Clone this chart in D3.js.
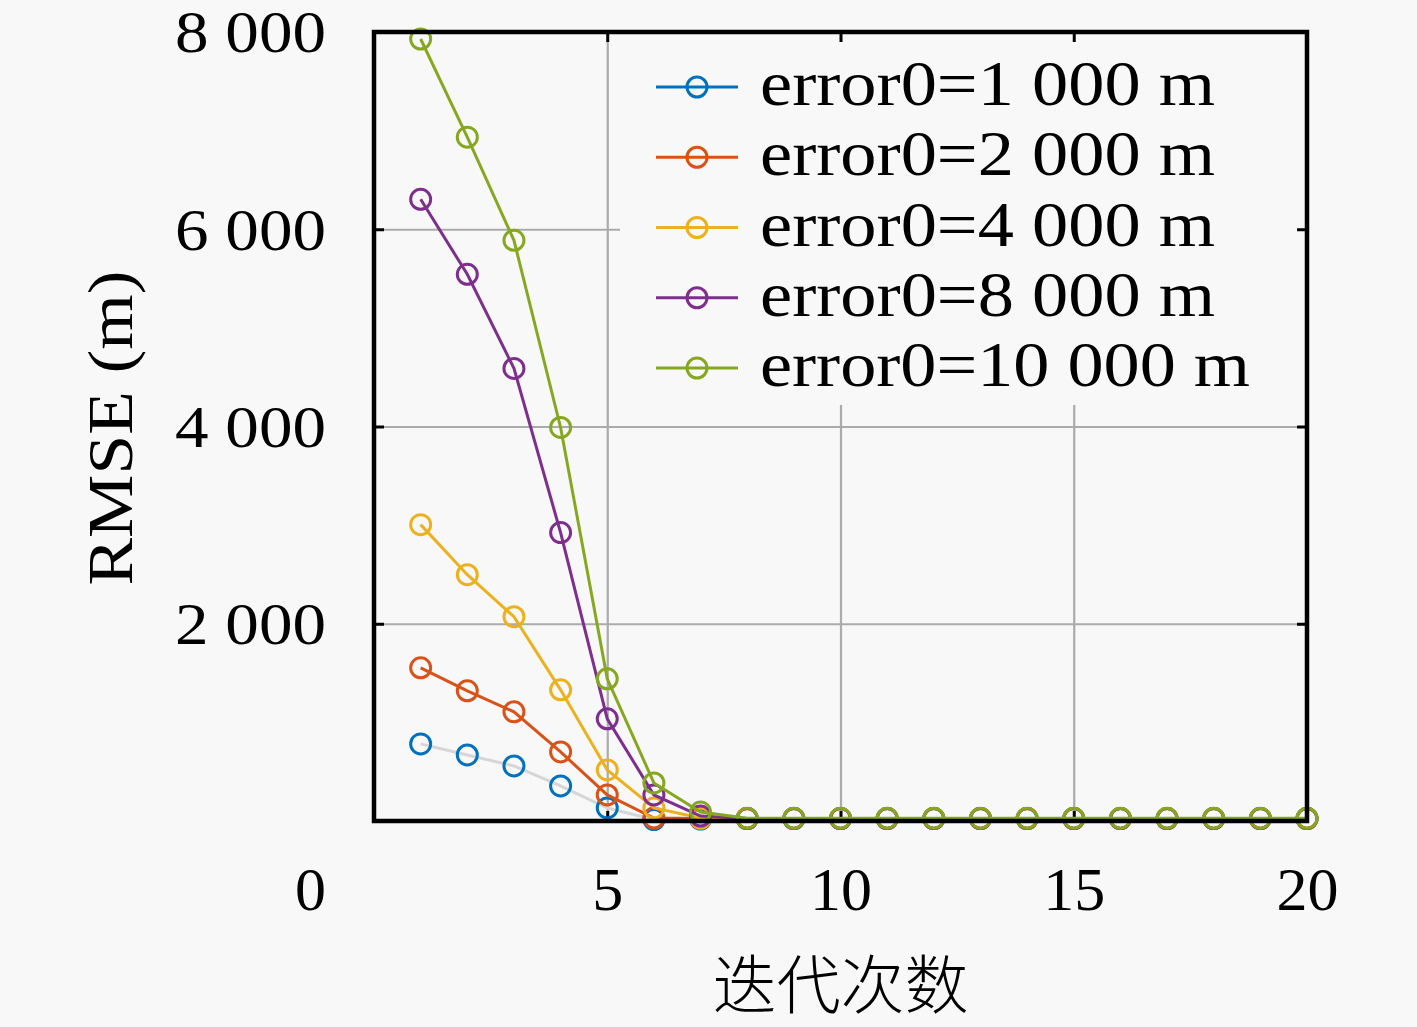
<!DOCTYPE html>
<html>
<head>
<meta charset="utf-8">
<script src="https://cdn.jsdelivr.net/npm/d3@7"></script>
<style>
  html, body { margin: 0; padding: 0; background: #f8f8f8; }
  svg { display: block; }
</style>
</head>
<body>
<div id="chart"></div>
<script>
const iterations = d3.range(1, 21);
const seriesNames = ["error0=1 000 m", "error0=2 000 m", "error0=4 000 m", "error0=8 000 m", "error0=10 000 m"];
const seriesColors = ["#0072bd", "#d95319", "#edb120", "#7e2f8e", "#86a820"];
const lineColors = ["#d6d6d6", "#d95319", "#edb120", "#7e2f8e", "#86a820"];

const rmse1000 = [782, 670, 558, 355, 132, 15, 20, 25, 25, 25, 25, 25, 25, 25, 25, 25, 25, 25, 25, 25];
const rmse2000 = [1553, 1320, 1107, 700, 264, 30, 25, 25, 25, 25, 25, 25, 25, 25, 25, 25, 25, 25, 25, 25];
const rmse4000 = [3005, 2497, 2071, 1330, 518, 132, 30, 25, 25, 25, 25, 25, 25, 25, 25, 25, 25, 25, 25, 25];
const rmse8000 = [6304, 5543, 4589, 2924, 1036, 264, 50, 25, 25, 25, 25, 25, 25, 25, 25, 25, 25, 25, 25, 25];
const rmse10000 = [7929, 6934, 5888, 3990, 1442, 386, 91, 28, 28, 28, 28, 28, 28, 28, 28, 28, 28, 28, 28, 28];
const allSeries = [rmse1000, rmse2000, rmse4000, rmse8000, rmse10000];

const xTicks = [5, 10, 15, 20];
const yTicks = [2000, 4000, 6000, 8000];

const margin = { top: 32, right: 110, bottom: 206, left: 374 };
const width = 1417 - margin.left - margin.right;
const height = 1027 - margin.top - margin.bottom;
const serif = "'Liberation Serif', 'Times New Roman', serif";

const svg = d3.select("#chart")
  .append("svg")
  .attr("width", 1417)
  .attr("height", 1027)
  .style("background", "#f8f8f8");

const g = svg.append("g")
  .attr("transform", `translate(${margin.left},${margin.top})`);

const x = d3.scaleLinear().domain([0, 20]).range([0, width]);
const y = d3.scaleLinear().domain([0, 8000]).range([height, 0]);

// grid
g.append("g")
  .attr("class", "grid-x")
  .attr("transform", `translate(0,${height})`)
  .call(d3.axisBottom(x).tickValues([5, 10, 15]).tickSize(-height).tickFormat(""))
  .call(s => s.select(".domain").remove())
  .call(s => s.selectAll("line").attr("stroke", "#ababab").attr("stroke-width", 2.2));

g.append("g")
  .attr("class", "grid-y")
  .call(d3.axisLeft(y).tickValues([2000, 4000, 6000]).tickSize(-width).tickFormat(""))
  .call(s => s.select(".domain").remove())
  .call(s => s.selectAll("line").attr("stroke", "#ababab").attr("stroke-width", 2.2));

// legend background covers the grid
const legX = 246, legY = 3, legW = 680, legH = 370;
g.append("rect")
  .attr("x", legX).attr("y", legY)
  .attr("width", legW).attr("height", legH)
  .attr("fill", "#f8f8f8");

// inner ticks on all four sides
function styleTicks(s) {
  s.select(".domain").remove();
  s.selectAll("line").attr("stroke", "#000").attr("stroke-width", 3);
  s.selectAll("text").remove();
}
g.append("g").attr("transform", `translate(0,${height})`)
  .call(d3.axisBottom(x).tickValues(xTicks).tickSize(-10)).call(styleTicks);
g.append("g")
  .call(d3.axisTop(x).tickValues(xTicks).tickSize(-10)).call(styleTicks);
g.append("g")
  .call(d3.axisLeft(y).tickValues(yTicks).tickSize(-10)).call(styleTicks);
g.append("g").attr("transform", `translate(${width},0)`)
  .call(d3.axisRight(y).tickValues(yTicks).tickSize(-10)).call(styleTicks);

// series
const line = d3.line().x((d, i) => x(iterations[i])).y(d => y(d));

allSeries.forEach((vals, k) => {
  g.append("path")
    .datum(vals)
    .attr("fill", "none")
    .attr("stroke", lineColors[k])
    .attr("stroke-width", 3)
    .attr("d", line);
  g.selectAll(".m" + k)
    .data(vals)
    .enter()
    .append("circle")
    .attr("class", "m" + k)
    .attr("cx", (d, i) => x(iterations[i]))
    .attr("cy", d => y(d))
    .attr("r", 10)
    .attr("fill", "none")
    .attr("stroke", seriesColors[k])
    .attr("stroke-width", 3);
});

// frame
g.append("rect")
  .attr("width", width).attr("height", height)
  .attr("fill", "none")
  .attr("stroke", "#000")
  .attr("stroke-width", 4.5);

// tick labels
const xAxis = g.append("g").attr("transform", `translate(0,${height})`)
  .call(d3.axisBottom(x).tickValues(xTicks).tickSize(0).tickPadding(0));
xAxis.select(".domain").remove();
xAxis.selectAll("text")
  .attr("dy", null).attr("y", 89)
  .style("font-family", serif).style("font-size", "62px").attr("fill", "#000");

const yAxis = g.append("g")
  .call(d3.axisLeft(y).tickValues(yTicks).tickSize(0).tickPadding(48)
    .tickFormat(d => d3.format(",")(d).replace(",", " ")));
yAxis.select(".domain").remove();
yAxis.selectAll("text")
  .attr("dy", "0.33em")
  .attr("textLength", 151)
  .attr("lengthAdjust", "spacingAndGlyphs")
  .style("font-family", serif).style("font-size", "60px").attr("fill", "#000");

g.append("text")
  .attr("x", -48).attr("y", height + 89)
  .attr("text-anchor", "end")
  .style("font-family", serif).style("font-size", "62px")
  .text("0");

// axis titles
svg.append("text")
  .attr("transform", "translate(132,428) rotate(-90)")
  .attr("text-anchor", "middle")
  .attr("textLength", 315)
  .attr("lengthAdjust", "spacingAndGlyphs")
  .style("font-family", serif).style("font-size", "64px")
  .text("RMSE (m)");

svg.append("text")
  .attr("x", margin.left + x(10)).attr("y", 1008)
  .attr("text-anchor", "middle")
  .style("font-family", "'Noto Sans CJK SC', sans-serif").style("font-size", "64px")
  .style("font-weight", 300)
  .text("迭代次数");

// legend
const legend = svg.append("g");
const rowY = d3.scalePoint().domain(d3.range(seriesNames.length)).range([87, 368]);
const legendWidths = [455, 455, 455, 455, 490];
seriesNames.forEach((name, k) => {
  const ry = rowY(k);
  legend.append("line")
    .attr("x1", 656).attr("x2", 738).attr("y1", ry).attr("y2", ry)
    .attr("stroke", seriesColors[k]).attr("stroke-width", 3);
  legend.append("circle")
    .attr("cx", 697).attr("cy", ry).attr("r", 10)
    .attr("fill", "none").attr("stroke", seriesColors[k]).attr("stroke-width", 3);
  legend.append("text")
    .attr("x", 760).attr("y", ry + 18)
    .attr("textLength", legendWidths[k])
    .attr("lengthAdjust", "spacingAndGlyphs")
    .style("font-family", serif).style("font-size", "64px")
    .text(name);
});
</script>
</body>
</html>
